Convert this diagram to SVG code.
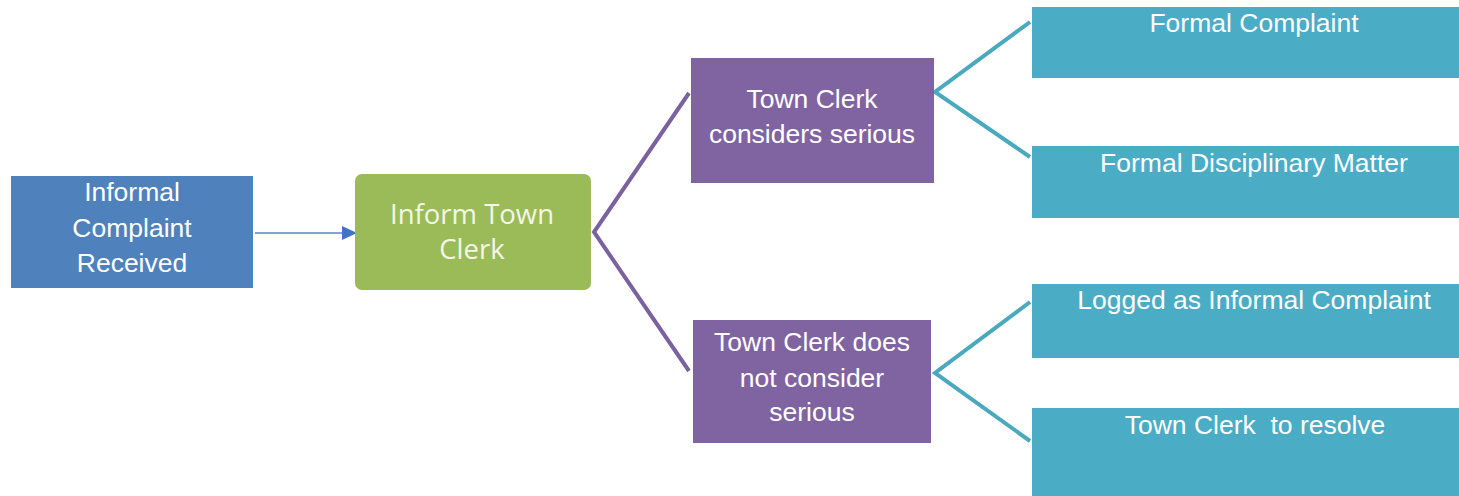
<svg xmlns="http://www.w3.org/2000/svg" width="1459" height="496" viewBox="0 0 1459 496">
<defs>
<style>
.t{font-family:"Liberation Sans",Arial,sans-serif;font-size:26.5px;fill:#ffffff;text-anchor:middle}
.g{font-family:"Open Sans","Noto Sans",sans-serif;font-size:27.5px;fill:#f2f7e6;text-anchor:middle}
.teal{fill:#4bacc6}
.purple{fill:#8064a2}
.pl{stroke:#7a62a0;stroke-width:4;fill:none}
.tl{stroke:#4aa8bf;stroke-width:4;fill:none}
</style>
<marker id="ah" markerWidth="16" markerHeight="16" refX="15" refY="8" orient="auto" markerUnits="userSpaceOnUse">
<path d="M0,1 L15,8 L0,15 Z" fill="#4472c4"/>
</marker>
</defs>
<rect width="1459" height="496" fill="#ffffff"/>
<g id="connectors">
<line x1="255" y1="233" x2="357" y2="233" stroke="#5b86cc" stroke-width="1.5" marker-end="url(#ah)"/>
<polyline class="pl" points="689,93 594,232 689,371"/>
<polyline class="tl" points="1030,22 935,92 1030,157"/>
<polyline class="tl" points="1030,302 935,373 1030,441"/>
</g>
<g id="n1">
<rect x="11" y="176" width="242" height="112" fill="#4f81bd"/>
<text class="t" x="132" y="201">Informal</text>
<text class="t" x="132" y="237">Complaint</text>
<text class="t" x="132" y="272">Received</text>
</g>
<g id="n2">
<rect x="355" y="174" width="236" height="116" rx="7" fill="#9bbb59"/>
<text class="g" x="472" y="224">Inform Town</text>
<text class="g" x="472" y="259">Clerk</text>
</g>
<g id="n3">
<rect class="purple" x="691" y="58" width="243" height="125"/>
<text class="t" x="812" y="108">Town Clerk</text>
<text class="t" x="812" y="143">considers serious</text>
</g>
<g id="n4">
<rect class="purple" x="693" y="320" width="238" height="123"/>
<text class="t" x="812" y="351">Town Clerk does</text>
<text class="t" x="812" y="387">not consider</text>
<text class="t" x="812" y="421">serious</text>
</g>
<g id="n5">
<rect class="teal" x="1032" y="7" width="427" height="71"/>
<text class="t" x="1254" y="32">Formal Complaint</text>
</g>
<g id="n6">
<rect class="teal" x="1032" y="146" width="427" height="72"/>
<text class="t" x="1254" y="172">Formal Disciplinary Matter</text>
</g>
<g id="n7">
<rect class="teal" x="1032" y="284" width="427" height="74"/>
<text class="t" x="1254" y="309">Logged as Informal Complaint</text>
</g>
<g id="n8">
<rect class="teal" x="1032" y="408" width="427" height="88"/>
<text class="t" x="1255" y="434" xml:space="preserve">Town Clerk  to resolve</text>
</g>
</svg>
